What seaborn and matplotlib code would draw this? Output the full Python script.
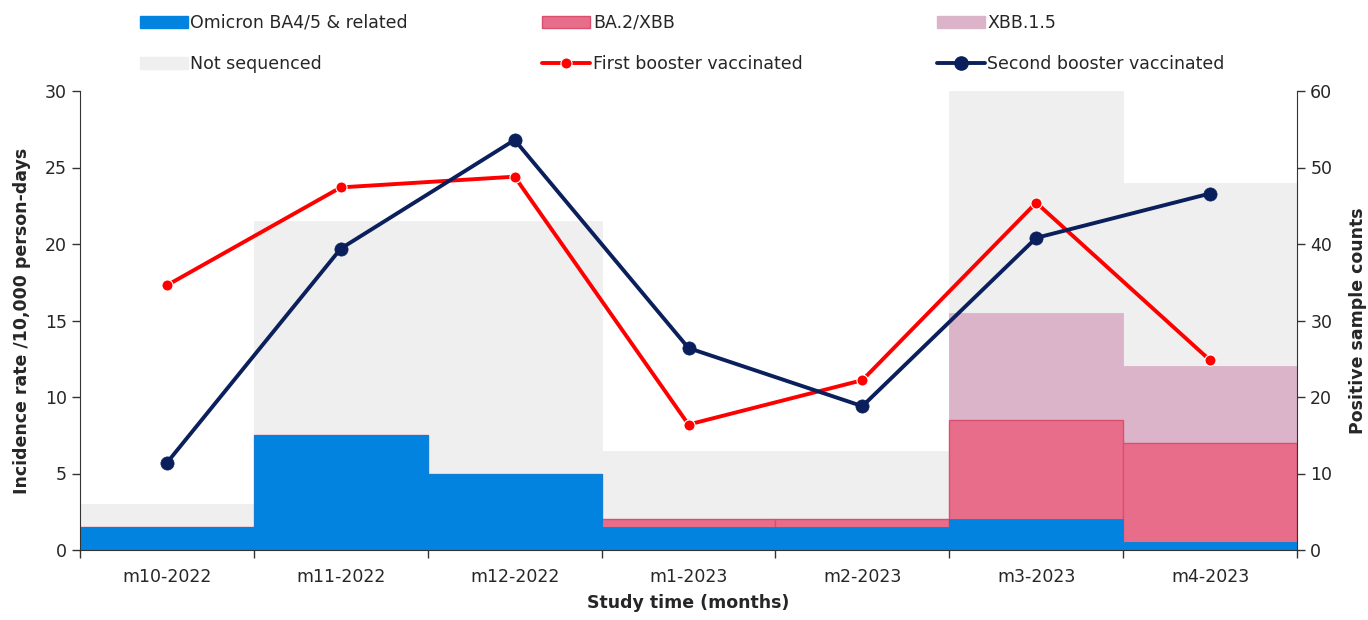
import numpy as np
import pandas as pd
import matplotlib
matplotlib.use("Agg")
import matplotlib.pyplot as plt
import seaborn as sns
from matplotlib.lines import Line2D
from matplotlib.patches import Patch

months = ["m10-2022", "m11-2022", "m12-2022", "m1-2023", "m2-2023", "m3-2023", "m4-2023"]
omicron_ba45 = [3, 15, 10, 3, 3, 4, 1]
ba2_xbb = [0, 0, 0, 1, 1, 13, 13]
xbb15 = [0, 0, 0, 0, 0, 14, 10]
not_sequenced = [3, 28, 33, 9, 9, 29, 24]
first_booster = [17.3, 23.7, 24.4, 8.2, 11.1, 22.7, 12.4]
second_booster = [5.7, 19.7, 26.8, 13.2, 9.4, 20.4, 23.3]

sns.set_style("white")
plt.rcParams['font.family'] = ['DejaVu Sans']

fig = plt.figure(figsize=(13.68, 6.2), dpi=100)
ax = fig.add_axes([80 / 1368, 70 / 620, (1297 - 80) / 1368, (550 - 91) / 620])
ax2 = ax.twinx()

c_blue = "#0283DF"
c_pink = "#E86D8A"
c_pink_edge = "#D9506F"
c_xbb = "#DBB4CA"
c_grey = "#EFEFEF"
c_red = "#FF0000"
c_navy = "#0A1F5C"

df = pd.DataFrame({"month": months, "omi": omicron_ba45, "ba2": ba2_xbb,
                   "xbb": xbb15, "ns": not_sequenced})
df["c1"] = df["omi"]
df["c2"] = df["c1"] + df["ba2"]
df["c3"] = df["c2"] + df["xbb"]
df["c4"] = df["c3"] + df["ns"]

# bars on ax (counts) - drawn tallest first
sns.barplot(data=df, x="month", y="c4", color=c_grey, width=1, saturation=1,
            edgecolor=c_grey, linewidth=0.6, ax=ax)
sns.barplot(data=df, x="month", y="c3", color=c_xbb, width=1, saturation=1,
            edgecolor=c_xbb, linewidth=0.6, ax=ax)
sns.barplot(data=df, x="month", y="c2", color=c_pink, width=1, saturation=1,
            edgecolor=c_pink_edge, linewidth=1.0, ax=ax)
sns.barplot(data=df, x="month", y="c1", color=c_blue, width=1, saturation=1,
            edgecolor=c_blue, linewidth=0.6, ax=ax)

# lines on ax2 (incidence rate)
ldf = pd.DataFrame({"month": months, "first": first_booster, "second": second_booster})
sns.lineplot(data=ldf, x="month", y="first", color=c_red, linewidth=2.8,
             marker="o", markersize=8, markeredgecolor="white", markeredgewidth=0.8,
             ax=ax2, sort=False)
sns.lineplot(data=ldf, x="month", y="second", color=c_navy, linewidth=2.8,
             marker="o", markersize=9.5, markeredgecolor=c_navy, markeredgewidth=0.5,
             ax=ax2, sort=False)

# swap sides: counts on the right, rate on the left
ax.set_ylim(0, 60)
ax.set_yticks([0, 10, 20, 30, 40, 50, 60])
ax2.set_ylim(0, 30)
ax2.set_yticks([0, 5, 10, 15, 20, 25, 30])
ax.yaxis.tick_right()
ax.yaxis.set_label_position("right")
ax2.yaxis.tick_left()
ax2.yaxis.set_label_position("left")

ax.set_xlim(-0.5, 6.5)
ax.set_xticks(np.arange(-0.5, 7, 1))
ax.set_xticklabels([])
ax.set_xticks(np.arange(7), minor=True)
ax.set_xticklabels(months, minor=True, fontsize=12.5)
ax.tick_params(axis="x", which="major", length=6, width=1, direction="out", bottom=True, color="#333333")
ax.tick_params(axis="x", which="minor", length=0, pad=13)

for a in (ax, ax2):
    for s in a.spines.values():
        s.set_visible(False)
ax.spines["bottom"].set_visible(True)
ax.spines["bottom"].set_color("#333333")
ax2.spines["left"].set_visible(True)
ax2.spines["left"].set_color("#333333")
ax.spines["right"].set_visible(True)
ax.spines["right"].set_color("#333333")

ax.tick_params(axis="y", which="major", right=True, left=False, length=6, width=1,
               direction="out", labelsize=12.5, color="#333333")
ax2.tick_params(axis="y", which="major", left=True, right=False, length=6, width=1,
                direction="out", labelsize=12.5, color="#333333")
ax2.tick_params(axis="x", which="both", length=0)

ax.set_xlabel("Study time (months)", fontsize=12.5, fontweight="bold", labelpad=6)
ax.set_ylabel("Positive sample counts", fontsize=12.5, fontweight="bold", labelpad=12)
ax2.set_ylabel("Incidence rate /10,000 person-days", fontsize=12.5, fontweight="bold", labelpad=10)
ax2.set_xlabel("")
ax.grid(False)
ax2.grid(False)

handles = [
    Patch(facecolor=c_blue, edgecolor=c_blue),
    Patch(facecolor=c_grey, edgecolor=c_grey),
    Patch(facecolor=c_pink, edgecolor=c_pink_edge),
    Line2D([0], [0], color=c_red, lw=2.8, marker="o", markersize=8,
           markeredgecolor="white", markeredgewidth=0.8),
    Patch(facecolor=c_xbb, edgecolor=c_xbb),
    Line2D([0], [0], color=c_navy, lw=2.8, marker="o", markersize=9.5),
]
labels = ["Omicron BA4/5 & related", "Not sequenced", "BA.2/XBB",
          "First booster vaccinated", "XBB.1.5", "Second booster vaccinated"]
leg = fig.legend(handles, labels, ncol=3, loc="upper left",
                 bbox_to_anchor=(126 / 1368, 1.0), frameon=False, fontsize=12.5,
                 handlelength=2.75, handletextpad=0.15, columnspacing=7.75,
                 labelspacing=1.35, borderaxespad=0.4)

fig.savefig("out.png", dpi=100)
